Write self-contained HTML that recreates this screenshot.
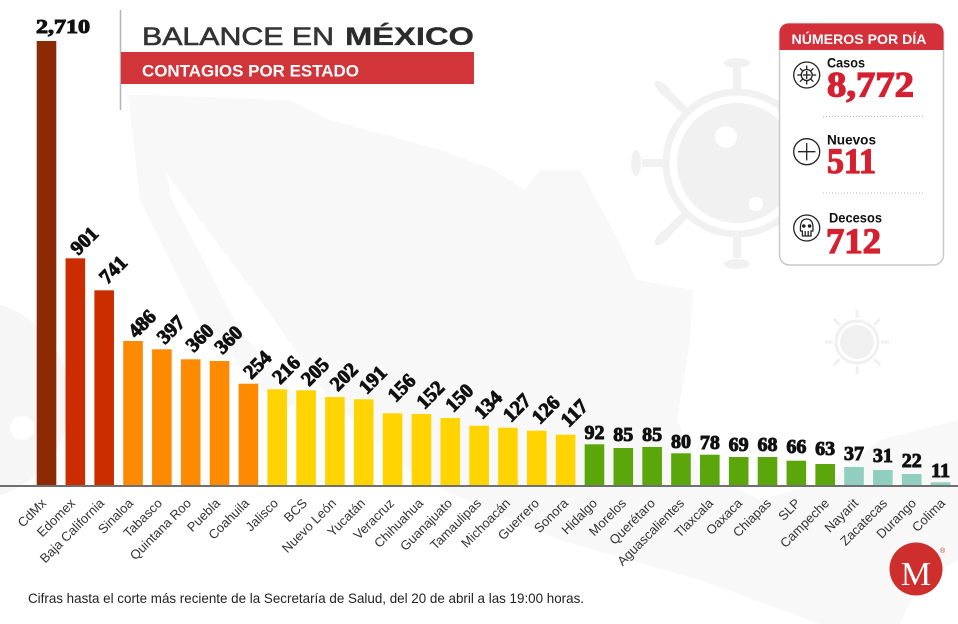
<!DOCTYPE html>
<html>
<head>
<meta charset="utf-8">
<style>
html,body{margin:0;padding:0;background:#fff;}
svg{display:block;}
.sr{font-family:"Liberation Serif",serif;font-weight:bold;fill:#111;stroke:#111;stroke-width:1px;font-size:20px;}
.ax{font-family:"Liberation Sans",sans-serif;font-size:13px;fill:#333;}
</style>
</head>
<body>
<svg width="958" height="624" viewBox="0 0 958 624" xmlns="http://www.w3.org/2000/svg">
<!-- background faint map -->
<polygon fill="#f8f8f8" points="150,95 290,100 330,120 440,150 490,168 525,190 540,170 580,170 613,230 637,280 693,290 690,340 677,420 700,470 760,500 830,480 880,440 958,420 958,560 920,580 900,624 820,624 700,580 560,540 420,480 330,400 260,300 200,220 150,150"/>
<polygon fill="#f8f8f8" points="128,95 150,95 172,200 240,330 300,400 282,412 200,322 140,200"/>
<!-- faint left virus -->
<circle cx="-30" cy="400" r="100" fill="#f6f6f6"/>
<circle cx="22" cy="428" r="12" fill="#fff"/>
<!-- big faint virus -->
<g fill="#f1f1f1" stroke="none">
  <circle cx="737" cy="163" r="60"/>
  <circle cx="737" cy="163" r="71" fill="none" stroke="#f1f1f1" stroke-width="7"/>
  <g stroke="#f1f1f1" stroke-width="8">
    <line x1="737" y1="90" x2="737" y2="68"/>
    <line x1="737" y1="236" x2="737" y2="258"/>
    <line x1="664" y1="163" x2="642" y2="163"/>
    <line x1="685" y1="111" x2="668" y2="94"/>
    <line x1="685" y1="215" x2="668" y2="232"/>
  </g>
  <ellipse cx="737" cy="63" rx="13" ry="5"/>
  <ellipse cx="737" cy="264" rx="13" ry="5"/>
  <ellipse cx="636" cy="163" rx="5" ry="13"/>
  <ellipse cx="664" cy="90" rx="12" ry="5" transform="rotate(45 664 90)"/>
  <ellipse cx="664" cy="236" rx="12" ry="5" transform="rotate(-45 664 236)"/>
  <circle cx="726" cy="137" r="11" fill="#fff"/>
  <circle cx="756" cy="204" r="7" fill="#fff"/>
</g>
<!-- small faint virus -->
<g fill="#f0f0f0">
  <circle cx="857" cy="342" r="17"/>
  <circle cx="857" cy="342" r="21" fill="none" stroke="#f0f0f0" stroke-width="3"/>
  <g stroke="#f0f0f0" stroke-width="3">
    <line x1="857" y1="318" x2="857" y2="310"/><line x1="857" y1="366" x2="857" y2="374"/>
    <line x1="833" y1="342" x2="825" y2="342"/><line x1="881" y1="342" x2="889" y2="342"/>
    <line x1="840" y1="325" x2="834" y2="319"/><line x1="874" y1="359" x2="880" y2="365"/>
    <line x1="874" y1="325" x2="880" y2="319"/><line x1="840" y1="359" x2="834" y2="365"/>
  </g>
</g>

<!-- title -->
<line x1="120.5" y1="10" x2="120.5" y2="110" stroke="#b5b5b5" stroke-width="1.5"/>
<text x="142" y="45" font-family="Liberation Sans, sans-serif" font-size="25" fill="#333" stroke="#333" stroke-width="0.6" textLength="192" lengthAdjust="spacingAndGlyphs">BALANCE EN</text>
<text x="345" y="45" font-family="Liberation Sans, sans-serif" font-size="25" font-weight="bold" fill="#2b2b2b" stroke="#2b2b2b" stroke-width="0.3" textLength="129" lengthAdjust="spacingAndGlyphs">MÉXICO</text>
<rect x="121" y="52" width="353" height="32" fill="#d1353a"/>
<text x="142" y="76.5" font-family="Liberation Sans, sans-serif" font-size="16.5" font-weight="bold" fill="#fff" textLength="217" lengthAdjust="spacingAndGlyphs">CONTAGIOS POR ESTADO</text>

<!-- panel -->
<rect x="779.5" y="23.5" width="164" height="241.5" rx="10" ry="10" fill="#fff" stroke="#c9c9c9" stroke-width="1.5"/>
<path d="M779.5,50 L779.5,33.5 Q779.5,23.5 789.5,23.5 L933.5,23.5 Q943.5,23.5 943.5,33.5 L943.5,50 Z" fill="#d3303a"/>
<text x="859" y="44" text-anchor="middle" font-family="Liberation Sans, sans-serif" font-size="14" font-weight="bold" fill="#fff" textLength="135" lengthAdjust="spacingAndGlyphs">NÚMEROS POR DÍA</text>

<text x="827" y="67.5" font-family="Liberation Sans, sans-serif" font-size="14" font-weight="bold" fill="#111" textLength="38" lengthAdjust="spacingAndGlyphs">Casos</text>
<text x="827" y="96.5" font-family="Liberation Serif, serif" font-size="36" font-weight="bold" fill="#d42030" stroke="#d42030" stroke-width="1.3" textLength="87" lengthAdjust="spacingAndGlyphs">8,772</text>
<line x1="823" y1="116.5" x2="925" y2="116.5" stroke="#bbb" stroke-width="1" stroke-dasharray="1 2"/>
<text x="827" y="144.3" font-family="Liberation Sans, sans-serif" font-size="14" font-weight="bold" fill="#111" textLength="49" lengthAdjust="spacingAndGlyphs">Nuevos</text>
<text x="827" y="173" font-family="Liberation Serif, serif" font-size="36" font-weight="bold" fill="#d42030" stroke="#d42030" stroke-width="1.3" textLength="49" lengthAdjust="spacingAndGlyphs">511</text>
<line x1="823" y1="193" x2="925" y2="193" stroke="#bbb" stroke-width="1" stroke-dasharray="1 2"/>
<text x="829" y="222.3" font-family="Liberation Sans, sans-serif" font-size="14" font-weight="bold" fill="#111" textLength="53" lengthAdjust="spacingAndGlyphs">Decesos</text>
<text x="826" y="253" font-family="Liberation Serif, serif" font-size="36" font-weight="bold" fill="#d42030" stroke="#d42030" stroke-width="1.3" textLength="55" lengthAdjust="spacingAndGlyphs">712</text>

<!-- icons -->
<g fill="none" stroke="#222" stroke-width="1.3">
  <circle cx="806.7" cy="75" r="13"/>
  <circle cx="806.7" cy="75" r="5.5"/>
  <line x1="806.7" y1="71" x2="806.7" y2="79"/><line x1="802.7" y1="75" x2="810.7" y2="75"/>
  <line x1="806.7" y1="69.5" x2="806.7" y2="65.5"/><line x1="806.7" y1="80.5" x2="806.7" y2="84.5"/>
  <line x1="801.2" y1="75" x2="797.2" y2="75"/><line x1="812.2" y1="75" x2="816.2" y2="75"/>
  <line x1="802.8" y1="71.1" x2="800" y2="68.3"/><line x1="810.6" y1="78.9" x2="813.4" y2="81.7"/>
  <line x1="810.6" y1="71.1" x2="813.4" y2="68.3"/><line x1="802.8" y1="78.9" x2="800" y2="81.7"/>
  <circle cx="806.7" cy="151.7" r="13"/>
  <line x1="806.7" y1="143" x2="806.7" y2="160.4"/><line x1="798" y1="151.7" x2="815.4" y2="151.7"/>
  <circle cx="806.7" cy="228" r="13"/>
  <path d="M800.5,231 Q799.5,219 806.7,219 Q813.9,219 812.9,231 L811,231 L811,236 L802.4,236 L802.4,231 Z"/>
  <line x1="805.2" y1="231" x2="805.2" y2="236"/><line x1="808.2" y1="231" x2="808.2" y2="236"/>
</g>
<circle cx="803.8" cy="226" r="1.8" fill="#222"/>
<circle cx="809.6" cy="226" r="1.8" fill="#222"/>

<!-- bars -->
<rect x="36.70" y="41" width="19.6" height="444" fill="#8b2a04"/>
<rect x="65.54" y="258.3" width="19.6" height="226.7" fill="#cc2d00"/>
<rect x="94.38" y="290.3" width="19.6" height="194.7" fill="#cc2d00"/>
<rect x="123.22" y="341" width="19.6" height="144" fill="#fd8a00"/>
<rect x="152.06" y="349.3" width="19.6" height="135.7" fill="#fd8a00"/>
<rect x="180.90" y="359.3" width="19.6" height="125.7" fill="#fd8a00"/>
<rect x="209.74" y="361" width="19.6" height="124" fill="#fd8a00"/>
<rect x="238.58" y="383.7" width="19.6" height="101.3" fill="#fd8a00"/>
<rect x="267.42" y="389.3" width="19.6" height="95.7" fill="#ffd400"/>
<rect x="296.26" y="390.3" width="19.6" height="94.7" fill="#ffd400"/>
<rect x="325.10" y="397" width="19.6" height="88" fill="#ffd400"/>
<rect x="353.94" y="399.3" width="19.6" height="85.7" fill="#ffd400"/>
<rect x="382.78" y="413.3" width="19.6" height="71.7" fill="#ffd400"/>
<rect x="411.62" y="414" width="19.6" height="71" fill="#ffd400"/>
<rect x="440.46" y="418" width="19.6" height="67" fill="#ffd400"/>
<rect x="469.30" y="425.7" width="19.6" height="59.3" fill="#ffd400"/>
<rect x="498.14" y="427.7" width="19.6" height="57.3" fill="#ffd400"/>
<rect x="526.98" y="430.7" width="19.6" height="54.3" fill="#ffd400"/>
<rect x="555.82" y="434.7" width="19.6" height="50.3" fill="#ffd400"/>
<rect x="584.66" y="444.3" width="19.6" height="40.7" fill="#5ba60a"/>
<rect x="613.50" y="448" width="19.6" height="37" fill="#5ba60a"/>
<rect x="642.34" y="447" width="19.6" height="38" fill="#5ba60a"/>
<rect x="671.18" y="453.3" width="19.6" height="31.7" fill="#5ba60a"/>
<rect x="700.02" y="454.7" width="19.6" height="30.3" fill="#5ba60a"/>
<rect x="728.86" y="457" width="19.6" height="28" fill="#5ba60a"/>
<rect x="757.70" y="457" width="19.6" height="28" fill="#5ba60a"/>
<rect x="786.54" y="460.7" width="19.6" height="24.3" fill="#5ba60a"/>
<rect x="815.38" y="464" width="19.6" height="21" fill="#5ba60a"/>
<rect x="844.22" y="467" width="19.6" height="18" fill="#90cfbf"/>
<rect x="873.06" y="470" width="19.6" height="15" fill="#90cfbf"/>
<rect x="901.90" y="474" width="19.6" height="11" fill="#90cfbf"/>
<rect x="930.74" y="482.3" width="19.6" height="2.7" fill="#90cfbf"/>
<rect x="0" y="485" width="958" height="2" fill="#6f6f6f"/>

<!-- value labels -->
<text class="sr" x="36" y="33" textLength="54" lengthAdjust="spacingAndGlyphs">2,710</text>
<text class="sr" transform="translate(78.3,256) rotate(-45)">901</text>
<text class="sr" transform="translate(107.2,285) rotate(-45)">741</text>
<text class="sr" transform="translate(136,339) rotate(-45)">486</text>
<text class="sr" transform="translate(164.9,345) rotate(-45)">397</text>
<text class="sr" transform="translate(193.7,353) rotate(-45)">360</text>
<text class="sr" transform="translate(222.5,355) rotate(-45)">360</text>
<text class="sr" transform="translate(251.4,380) rotate(-45)">254</text>
<text class="sr" transform="translate(280.2,385) rotate(-45)">216</text>
<text class="sr" transform="translate(309.1,387) rotate(-45)">205</text>
<text class="sr" transform="translate(337.9,392) rotate(-45)">202</text>
<text class="sr" transform="translate(366.7,395) rotate(-45)">191</text>
<text class="sr" transform="translate(395.6,403) rotate(-45)">156</text>
<text class="sr" transform="translate(424.4,410) rotate(-45)">152</text>
<text class="sr" transform="translate(453.3,413) rotate(-45)">150</text>
<text class="sr" transform="translate(482.1,420) rotate(-45)">134</text>
<text class="sr" transform="translate(510.9,423) rotate(-45)">127</text>
<text class="sr" transform="translate(539.8,425) rotate(-45)">126</text>
<text class="sr" transform="translate(568.6,428) rotate(-45)">117</text>
<g text-anchor="middle">
<text class="sr" x="594.46" y="439">92</text>
<text class="sr" x="623.30" y="441">85</text>
<text class="sr" x="652.14" y="441">85</text>
<text class="sr" x="680.98" y="448">80</text>
<text class="sr" x="709.82" y="449">78</text>
<text class="sr" x="738.66" y="451">69</text>
<text class="sr" x="767.50" y="451">68</text>
<text class="sr" x="796.34" y="453">66</text>
<text class="sr" x="825.18" y="455">63</text>
<text class="sr" x="854.02" y="460">37</text>
<text class="sr" x="882.86" y="462">31</text>
<text class="sr" x="911.70" y="467">22</text>
<text class="sr" x="940.54" y="477">11</text>
</g>

<!-- axis labels -->
<g class="ax" text-anchor="end">
<text transform="translate(47,504) rotate(-45)">CdMx</text>
<text transform="translate(76,504) rotate(-45)">Edomex</text>
<text transform="translate(105,504) rotate(-45)">Baja California</text>
<text transform="translate(134,504) rotate(-45)">Sinaloa</text>
<text transform="translate(163,504) rotate(-45)">Tabasco</text>
<text transform="translate(192,504) rotate(-45)">Quintana Roo</text>
<text transform="translate(221,504) rotate(-45)">Puebla</text>
<text transform="translate(250,504) rotate(-45)">Coahuila</text>
<text transform="translate(279,504) rotate(-45)">Jalisco</text>
<text transform="translate(308,504) rotate(-45)">BCS</text>
<text transform="translate(337,504) rotate(-45)">Nuevo León</text>
<text transform="translate(366,504) rotate(-45)">Yucatán</text>
<text transform="translate(395,504) rotate(-45)">Veracruz</text>
<text transform="translate(424,504) rotate(-45)">Chihuahua</text>
<text transform="translate(453,504) rotate(-45)">Guanajuato</text>
<text transform="translate(482,504) rotate(-45)">Tamaulipas</text>
<text transform="translate(511,504) rotate(-45)">Michoacán</text>
<text transform="translate(540,504) rotate(-45)">Guerrero</text>
<text transform="translate(569,504) rotate(-45)">Sonora</text>
<text transform="translate(598,504) rotate(-45)">Hidalgo</text>
<text transform="translate(627,504) rotate(-45)">Morelos</text>
<text transform="translate(656,504) rotate(-45)">Querétaro</text>
<text transform="translate(685,504) rotate(-45)">Aguascalientes</text>
<text transform="translate(714,504) rotate(-45)">Tlaxcala</text>
<text transform="translate(743,504) rotate(-45)">Oaxaca</text>
<text transform="translate(772,504) rotate(-45)">Chiapas</text>
<text transform="translate(801,504) rotate(-45)">SLP</text>
<text transform="translate(830,504) rotate(-45)">Campeche</text>
<text transform="translate(859,504) rotate(-45)">Nayarit</text>
<text transform="translate(888,504) rotate(-45)">Zacatecas</text>
<text transform="translate(917,504) rotate(-45)">Durango</text>
<text transform="translate(946,504) rotate(-45)">Colima</text>
</g>

<!-- footer -->
<text x="28" y="603" font-family="Liberation Sans, sans-serif" font-size="14" fill="#222" textLength="556" lengthAdjust="spacingAndGlyphs">Cifras hasta el corte más reciente de la Secretaría de Salud, del 20 de abril a las 19:00 horas.</text>

<!-- logo -->
<circle cx="916" cy="569" r="26.5" fill="#cf2f2c"/>
<text x="916" y="585" text-anchor="middle" font-family="Liberation Serif, serif" font-size="34" fill="#fff">M</text>
<text x="940" y="553" font-family="Liberation Sans, sans-serif" font-size="7" fill="#c33">®</text>
</svg>
</body>
</html>
